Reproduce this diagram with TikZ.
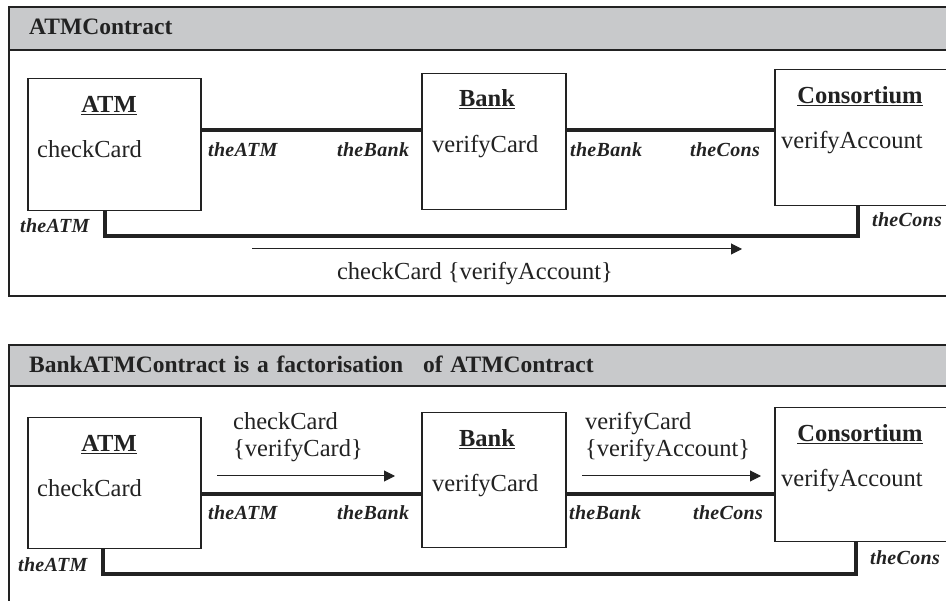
\documentclass[tikz,border=0pt]{standalone}
\usepackage{fontspec}
\setmainfont{Liberation Serif}
\newfontfamily\rolefont[LetterSpace=1.5]{Liberation Serif}
\usetikzlibrary{arrows.meta}
\definecolor{hdr}{HTML}{C8C9CB}
\definecolor{ink}{HTML}{222222}
\begin{document}
\begin{tikzpicture}[x=1pt,y=-1pt,
  box/.style={draw=ink,line width=1.5pt,fill=white,inner sep=0pt,anchor=north west},
  conn/.style={draw=ink,line width=3.5pt},
  frm/.style={draw=ink,line width=2pt},
  msg/.style={draw=ink,line width=1pt,-{Triangle[length=11pt,width=11pt]}},
  ttl/.style={anchor=base west,inner sep=0pt,text=ink,font=\fontsize{23.5}{28}\selectfont\bfseries},
  cls/.style={anchor=base,inner sep=0pt,text=ink,font=\fontsize{24.5}{29}\selectfont\bfseries},
  op/.style={anchor=base west,inner sep=0pt,text=ink,font=\fontsize{24.5}{29}\selectfont},
  role/.style={anchor=base west,inner sep=0pt,text=ink,font=\fontsize{20}{24}\rolefont\bfseries\itshape},
]
\useasboundingbox (0,0) rectangle (946,601);
\clip (0,0) rectangle (946,601);
% ---------- top frame ----------
\fill[hdr] (9,7) rectangle (960,50);
\draw[frm] (960,7) -- (9,7) -- (9,296) -- (960,296);
\draw[frm] (9,50) -- (960,50);
\node[ttl] (t1) at (29,35) {ATMContract};
\node[box,minimum width=173pt,minimum height=132pt] (atm1) at (27,78) {};
\node[box,minimum width=144pt,minimum height=136pt] (bank1) at (421,73) {};
\node[box,minimum width=190pt,minimum height=136pt] (cons1) at (774,69) {};
\node[cls] (atmn1) at (109,113) {\underline{ATM}};
\node[cls] (bankn1) at (487,107) {\underline{Bank}};
\node[cls] (consn1) at (860,104) {\underline{Consortium}};
\node[op] (cc1) at (37,158) {checkCard};
\node[op] (vc1) at (432,153) {verifyCard};
\node[op] (va1) at (781,149) {verifyAccount};
\coordinate (y1) at (0,130);
\draw[conn] (atm1.east |- y1) -- (bank1.west |- y1);
\draw[conn] (bank1.east |- y1) -- (cons1.west |- y1);
\node[role] (ra1) at (208,157) {theATM};
\node[role] (rb1) at (337,157) {theBank};
\node[role] (rb2) at (570,157) {theBank};
\node[role] (rc1) at (690,157) {theCons};
\coordinate (xa1) at (105,0);
\coordinate (xc1) at (858,236);
\draw[conn] (atm1.south -| xa1) |- (xc1) -- (cons1.south -| xc1);
\node[role] (ra2) at (20,233) {theATM};
\node[role] (rc2) at (872,227) {theCons};
\coordinate (m1s) at (252,249);
\coordinate (m1e) at (742,249);
\draw[msg] (m1s) -- (m1e);
\node[op,anchor=base] (m1) at (475,280) {checkCard \{verifyAccount\}};
% ---------- bottom frame ----------
\fill[hdr] (9,345) rectangle (960,386);
\draw[frm] (960,345) -- (9,345) -- (9,610);
\draw[frm] (9,386) -- (960,386);
\node[ttl] (t2) at (29,373) {BankATMContract\hspace{0.33em}is\hspace{0.33em}a\hspace{0.33em}factorisation\hspace{0.85em}of\hspace{0.33em}ATMContract};
\node[box,minimum width=173pt,minimum height=131pt] (atm2) at (27,417) {};
\node[box,minimum width=144pt,minimum height=135pt] (bank2) at (421,412) {};
\node[box,minimum width=190pt,minimum height=134pt] (cons2) at (774,407) {};
\node[cls] (atmn2) at (109,452) {\underline{ATM}};
\node[cls] (bankn2) at (487,447) {\underline{Bank}};
\node[cls] (consn2) at (860,442) {\underline{Consortium}};
\node[op] (cc2) at (37,497) {checkCard};
\node[op] (vc2) at (432,492) {verifyCard};
\node[op] (va2) at (781,487) {verifyAccount};
\coordinate (y2) at (0,494);
\draw[conn] (atm2.east |- y2) -- (bank2.west |- y2);
\draw[conn] (bank2.east |- y2) -- (cons2.west |- y2);
\node[role] (ra3) at (208,520) {theATM};
\node[role] (rb3) at (337,520) {theBank};
\node[role] (rb4) at (569,520) {theBank};
\node[role] (rc3) at (693,520) {theCons};
\coordinate (xa2) at (103,0);
\coordinate (xc2) at (856,574);
\draw[conn] (atm2.south -| xa2) |- (xc2) -- (cons2.south -| xc2);
\node[role] (ra4) at (18,572) {theATM};
\node[role] (rc4) at (870,565) {theCons};
\coordinate (m2s) at (217,476);
\coordinate (m2e) at (395,476);
\draw[msg] (m2s) -- (m2e);
\node[op] (m2a) at (233,430) {checkCard};
\node[op] (m2b) at (233,457) {\{verifyCard\}};
\coordinate (m3s) at (582,476);
\coordinate (m3e) at (761,476);
\draw[msg] (m3s) -- (m3e);
\node[op] (m3a) at (585,430) {verifyCard};
\node[op] (m3b) at (585,457) {\{verifyAccount\}};
\end{tikzpicture}
\end{document}
